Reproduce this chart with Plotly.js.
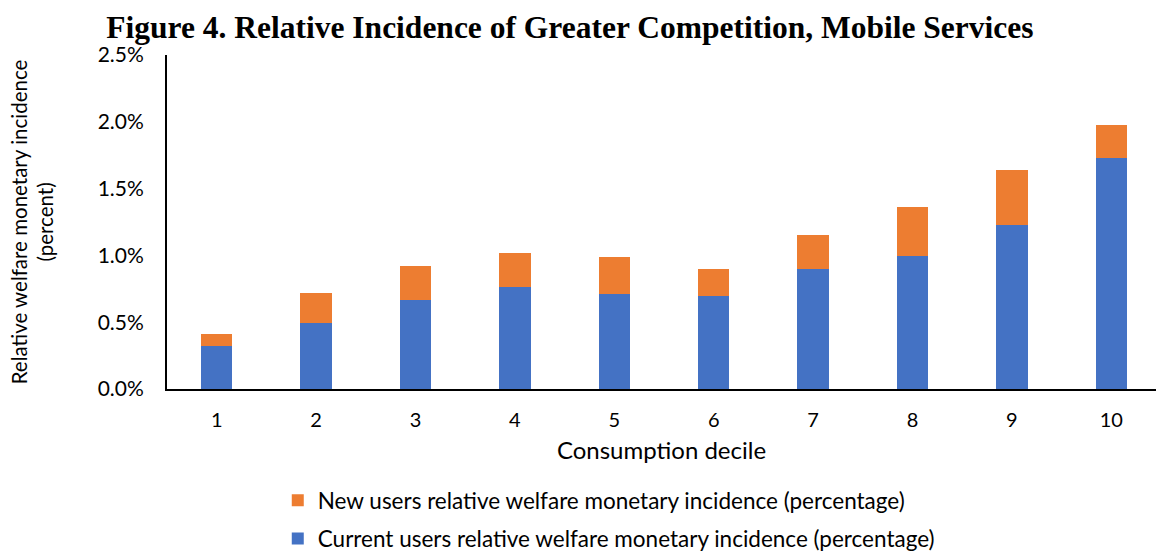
<!DOCTYPE html>
<html>
<head>
<meta charset="utf-8">
<script src="https://cdn.plot.ly/plotly-3.0.1.min.js"></script>
<style>html,body{margin:0;padding:0;background:#fff;}#chart{width:1156px;height:552px;}</style>
</head>
<body>
<div id="chart"></div>
<script>
const deciles = [1, 2, 3, 4, 5, 6, 7, 8, 9, 10];
const tickLabels = ["1", "2", "3", "4", "5", "6", "7", "8", "9", "10"];
const currentUsers = [0.322, 0.496, 0.663, 0.767, 0.711, 0.696, 0.898, 0.999, 1.224, 1.728];
const newUsers = [0.089, 0.224, 0.254, 0.252, 0.279, 0.202, 0.254, 0.365, 0.414, 0.249];
const seriesNames = [
  "Current users relative welfare monetary incidence (percentage)",
  "New users relative welfare monetary incidence (percentage)"
];

const baseFont = "Lato, 'Open Sans', sans-serif";

const traces = [
  {
    type: "bar", x: deciles, y: currentUsers, name: seriesNames[0],
    marker: {color: "#4472C4", line: {width: 0}}, width: 0.315,
    legendgroup: "current", legendrank: 2
  },
  {
    type: "bar", x: deciles, y: newUsers, name: seriesNames[1],
    marker: {color: "#ED7D31", line: {width: 0}}, width: 0.315,
    legendgroup: "new", legendrank: 1
  }
];

const layout = {
  width: 1156, height: 552,
  margin: {l: 167, r: 0, t: 55, b: 163, autoexpand: false},
  paper_bgcolor: "#fff", plot_bgcolor: "#fff",
  barmode: "stack",
  font: {family: baseFont, size: 18, color: "#000"},
  title: {
    text: "<b>Figure 4. Relative Incidence of Greater Competition, Mobile Services</b>",
    font: {family: "'Liberation Serif', 'DejaVu Serif', serif", size: 31.5, color: "#000"},
    x: 0.493, xanchor: "center", y: 0.952, yanchor: "middle"
  },
  xaxis: {
    range: [0.5, 10.45], tickvals: deciles, ticktext: tickLabels,
    showline: true, linecolor: "#000", linewidth: 2, ticks: "", showgrid: false, zeroline: false,
    ticklabelstandoff: 12, tickfont: {size: 20},
    title: {text: "Consumption decile", font: {size: 24}, standoff: 12}
  },
  yaxis: {
    range: [0, 2.5], dtick: 0.5, tickformat: ".1f", ticksuffix: "%",
    showline: true, linecolor: "#000", linewidth: 2, ticks: "", showgrid: false, zeroline: false,
    ticklabelstandoff: 17, tickfont: {size: 21},
    title: {text: "Relative welfare monetary incidence<br>(percent)", font: {size: 20.5}, standoff: 38}
  },
  showlegend: true,
  legend: {
    orientation: "v", traceorder: "grouped", tracegroupgap: 6,
    x: 0.112, xanchor: "left", y: -0.27, yanchor: "top",
    font: {size: 22.5}, bgcolor: "rgba(0,0,0,0)"
  }
};

Plotly.newPlot("chart", traces, layout, {displayModeBar: false, staticPlot: true});
</script>
</body>
</html>
